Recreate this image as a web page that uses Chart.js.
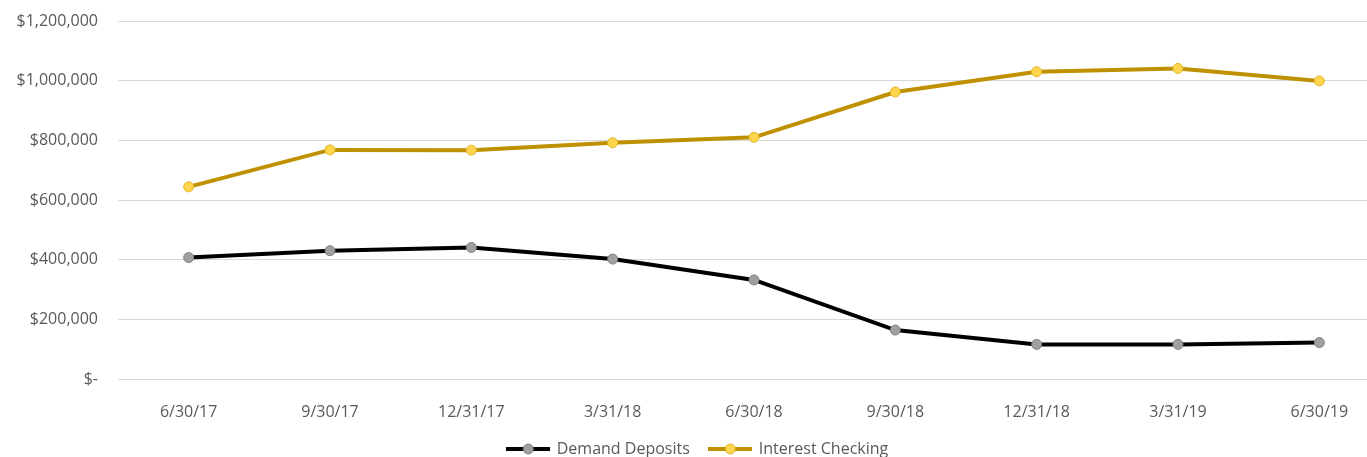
<!DOCTYPE html>
<html>
<head>
<meta charset="utf-8">
<script src="https://cdn.jsdelivr.net/npm/chart.js@4/dist/chart.umd.min.js"></script>
<style>
  html, body { margin: 0; padding: 0; background: #fff; overflow: hidden; }
  #wrap { position: relative; width: 1396px; height: 457px; }
</style>
</head>
<body>
<div id="wrap"><canvas id="c" width="1396" height="457"></canvas></div>
<script>
const categories = ["6/30/17", "9/30/17", "12/31/17", "3/31/18", "6/30/18", "9/30/18", "12/31/18", "3/31/19", "6/30/19"];
const demandDeposits = [407000, 430000, 441000, 402000, 332000, 164000, 116000, 116000, 122000];
const interestChecking = [644000, 768000, 767000, 792000, 810000, 962000, 1030000, 1041000, 999000];
const yTicks = [0, 200000, 400000, 600000, 800000, 1000000, 1200000];

function legendIcon(line, fill, border) {
  const cv = document.createElement('canvas');
  cv.width = 44; cv.height = 12;
  const g = cv.getContext('2d');
  g.strokeStyle = line; g.lineWidth = 4;
  g.beginPath(); g.moveTo(0, 6); g.lineTo(44, 6); g.stroke();
  g.fillStyle = fill; g.strokeStyle = border; g.lineWidth = 1;
  g.beginPath(); g.arc(22, 6, 5, 0, Math.PI * 2); g.fill(); g.stroke();
  return cv;
}
const icons = [legendIcon('#000000', '#a0a0a0', '#808080'), legendIcon('#BF9000', '#FFD54F', '#E3B62A')];

const font = { family: "'Open Sans', 'Liberation Sans', sans-serif", size: 16 };

new Chart(document.getElementById('c'), {
  type: 'line',
  data: {
    labels: categories,
    datasets: [
      {
        label: 'Demand Deposits', data: demandDeposits,
        borderColor: '#000000', borderWidth: 4,
        pointBackgroundColor: '#a0a0a0', pointBorderColor: '#808080', pointBorderWidth: 1,
        pointRadius: 5, tension: 0
      },
      {
        label: 'Interest Checking', data: interestChecking,
        borderColor: '#BF9000', borderWidth: 4,
        pointBackgroundColor: '#FFD54F', pointBorderColor: '#E3B62A', pointBorderWidth: 1,
        pointRadius: 5, tension: 0
      }
    ]
  },
  options: {
    responsive: false,
    animation: false,
    layout: { padding: { top: 21, right: 0, bottom: -10, left: 0 } },
    plugins: {
      tooltip: { enabled: false },
      legend: {
        position: 'bottom',
        labels: {
          font: font, color: '#595959',
          usePointStyle: true, pointStyleWidth: 41, boxHeight: 12,
          padding: 20,
          generateLabels: (chart) => chart.data.datasets.map((d, i) => ({
            text: d.label, pointStyle: icons[i], datasetIndex: i,
            fontColor: '#595959', lineWidth: 0, strokeStyle: 'transparent', fillStyle: 'transparent'
          }))
        }
      }
    },
    scales: {
      x: {
        offset: true,
        afterFit: (s) => { s.height = 42; s.paddingTop = 0; s.paddingBottom = 0; },
        grid: { display: false },
        border: { display: false },
        ticks: { font: font, color: '#595959', padding: 16, maxRotation: 0 }
      },
      y: {
        min: 0, max: 1200000,
        afterBuildTicks: (s) => { s.ticks = yTicks.map(v => ({ value: v })); },
        afterFit: (s) => { s.width = 118; s.paddingTop = 0; s.paddingBottom = 0; },
        grid: { color: '#d9d9d9', lineWidth: 1, drawTicks: false },
        border: { display: false },
        ticks: {
          font: font, color: '#595959', padding: 20,
          callback: (v) => v === 0 ? '$-' : '$' + v.toLocaleString('en-US')
        }
      }
    }
  }
});
</script>
</body>
</html>
